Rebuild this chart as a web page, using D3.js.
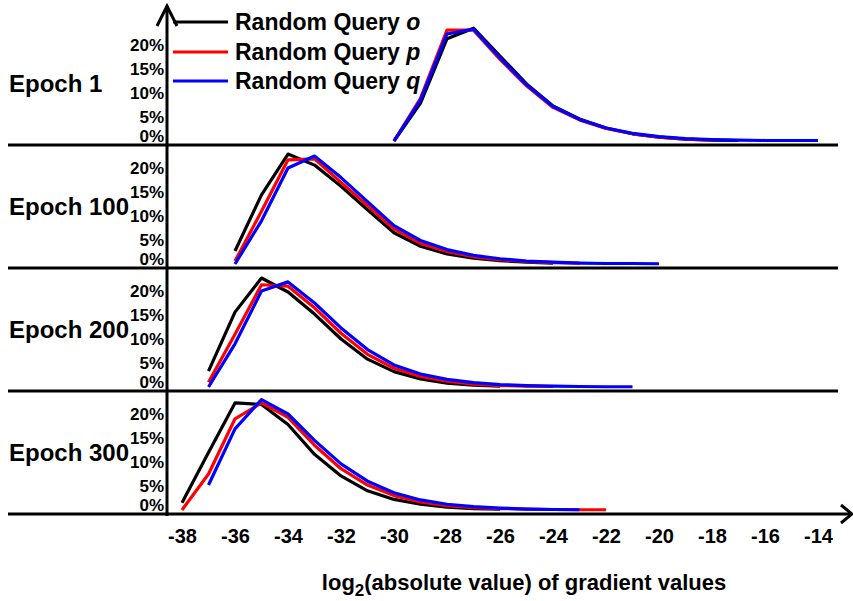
<!DOCTYPE html>
<html>
<head>
<meta charset="utf-8">
<script src="https://cdn.jsdelivr.net/npm/d3@7"></script>
<style>
  body { margin: 0; background: #fff; }
  text { font-family: Arial, "Liberation Sans", sans-serif; font-weight: bold; fill: #000; }
</style>
</head>
<body>
<div id="chart"></div>
<script>
// tick labels and categories
const xTicks = [-38, -36, -34, -32, -30, -28, -26, -24, -22, -20, -18, -16, -14];
const yTicks = [0, 5, 10, 15, 20];
const epochs = ["Epoch 1", "Epoch 100", "Epoch 200", "Epoch 300"];
const queries = ["o", "p", "q"];

// first bin (log2 value) of each series: [o, p, q] per epoch
const startBins = [[-30, -30, -30], [-36, -36, -36], [-37, -37, -37], [-38, -38, -37]];

// percentage of gradient values per bin, series o, p, q
const epoch1 = [
  [0, 7.9, 21.3, 23.5, 17.7, 11.9, 7.3, 4.6, 2.7, 1.5, 0.8, 0.4, 0.2, 0.1],
  [0, 8.9, 23.1, 23.1, 17.0, 11.5, 7.0, 4.4, 2.6, 1.5, 0.8, 0.4, 0.2],
  [0, 8.5, 22.3, 23.3, 17.3, 11.7, 7.2, 4.5, 2.7, 1.6, 0.9, 0.5, 0.3, 0.2, 0.1, 0.1, 0.1]
];
const epoch100 = [
  [2.7, 14.4, 22.9, 20.6, 16.2, 11.3, 6.5, 3.7, 2.1, 1.2, 0.7, 0.4, 0.2],
  [0.6, 11.0, 21.7, 21.9, 17.0, 12.2, 7.3, 4.3, 2.6, 1.5, 0.9, 0.5, 0.3, 0.2],
  [0, 9.0, 20.0, 22.5, 18.0, 13.0, 8.0, 4.9, 3.0, 1.8, 1.1, 0.6, 0.4, 0.2, 0.1, 0.1, 0.05]
];
const epoch200 = [
  [3.3, 15.6, 22.7, 19.8, 15.2, 10.0, 5.8, 3.2, 1.7, 0.8, 0.4, 0.2],
  [1.0, 11.0, 21.3, 21.0, 16.5, 11.2, 6.8, 3.9, 2.2, 1.2, 0.6, 0.3, 0.2, 0.1],
  [0, 9.0, 20.0, 21.9, 17.5, 12.3, 7.8, 4.6, 2.7, 1.6, 0.9, 0.5, 0.3, 0.2, 0.1, 0.05, 0.05]
];
const epoch300 = [
  [1.5, 12.0, 22.3, 22.0, 17.8, 11.6, 7.1, 4.0, 2.2, 1.2, 0.6, 0.3, 0.2],
  [0, 7.5, 19.0, 22.3, 19.3, 13.5, 8.6, 5.2, 3.0, 1.7, 0.9, 0.5, 0.3, 0.2, 0.1, 0.05, 0.05],
  [5.2, 16.9, 23.0, 20.0, 14.5, 9.6, 6.0, 3.6, 2.1, 1.2, 0.7, 0.4, 0.2, 0.1, 0.05]
];
const allEpochs = [epoch1, epoch100, epoch200, epoch300];

const colors = ["#000000", "#ff0000", "#0000ff"];

let w = 853;
let h = 601;
let axisX = 167;

const svg = d3.select("#chart")
              .append("svg")
              .attr("width", w)
              .attr("height", h);

const xScale = d3.scaleLinear()
                 .domain([-38, -14])
                 .range([182, 818]);

// baseline of each panel
const panelScale = d3.scalePoint()
                     .domain(epochs)
                     .range([145, 514]);

const line = d3.line()
               .x(d => xScale(d[0]))
               .y(d => d[1]);

epochs.forEach((ep, i) => {
  let base = panelScale(ep);
  const yScale = d3.scaleLinear()
                   .domain([0, 20])
                   .range([base - 4, base - 100]);

  // panel line
  svg.append("line")
     .attr("x1", 8).attr("x2", i === 3 ? 851 : 838)
     .attr("y1", base).attr("y2", base)
     .attr("stroke", "#000")
     .attr("stroke-width", 3);

  // y labels
  const yAxis = d3.axisLeft(yScale)
                  .tickValues(yTicks)
                  .tickSize(0)
                  .tickPadding(2)
                  .tickFormat(d => d + "%");
  const g = svg.append("g")
     .attr("transform", "translate(" + (axisX - 1) + ",0)")
     .call(yAxis);
  g.select(".domain").remove();
  g.selectAll("text")
   .attr("font-size", 17)
   .attr("font-family", "Arial, 'Liberation Sans', sans-serif")
   .attr("font-weight", "bold");
  g.selectAll(".tick").filter(d => d === 0).select("text").attr("dy", "0.03em");

  svg.append("text")
     .attr("x", 9)
     .attr("y", base - 61)
     .attr("dy", "0.35em")
     .attr("font-size", 24)
     .text(ep);

  // series
  allEpochs[i].forEach((vals, j) => {
    const pts = vals.map((v, k) => [startBins[i][j] + k, yScale(v)]);
    svg.append("path")
       .attr("d", line(pts))
       .attr("fill", "none")
       .attr("stroke", colors[j])
       .attr("stroke-width", 3.2)
       .attr("stroke-linejoin", "round");
  });
});

// vertical axis with arrow
svg.append("line")
   .attr("x1", axisX).attr("x2", axisX)
   .attr("y1", 6).attr("y2", 516)
   .attr("stroke", "#000").attr("stroke-width", 3);
svg.append("path")
   .attr("d", "M157,26L167,6L177,26")
   .attr("fill", "none").attr("stroke", "#000").attr("stroke-width", 3);

// horizontal arrow head
svg.append("path")
   .attr("d", "M841,505L852,514L841,523")
   .attr("fill", "none").attr("stroke", "#000").attr("stroke-width", 3);

// x tick labels
const xAxis = d3.axisBottom(xScale)
                .tickValues(xTicks)
                .tickSize(0)
                .tickPadding(15)
                .tickFormat(d => String(d));
const gx = svg.append("g")
   .attr("transform", "translate(0,514)")
   .call(xAxis);
gx.select(".domain").remove();
gx.selectAll("text")
  .attr("font-size", 20)
  .attr("font-family", "Arial, 'Liberation Sans', sans-serif")
  .attr("font-weight", "bold");

// legend
const legendY = [22, 52, 81];
queries.forEach((q, j) => {
  svg.append("line")
     .attr("x1", 173).attr("x2", 228)
     .attr("y1", legendY[j]).attr("y2", legendY[j])
     .attr("stroke", colors[j]).attr("stroke-width", 3);
  const t = svg.append("text")
     .attr("x", 235)
     .attr("y", legendY[j])
     .attr("dy", "0.35em")
     .attr("font-size", 23);
  t.append("tspan").text("Random Query ");
  t.append("tspan").attr("font-style", "italic").text(q);
});

// x title
const title = svg.append("text")
   .attr("x", 524)
   .attr("y", 590)
   .attr("text-anchor", "middle")
   .attr("font-size", 22);
title.append("tspan").text("log");
title.append("tspan").attr("font-size", 17).attr("dy", 6).text("2");
title.append("tspan").attr("dy", -6).text("(absolute value) of gradient values");
</script>
</body>
</html>
